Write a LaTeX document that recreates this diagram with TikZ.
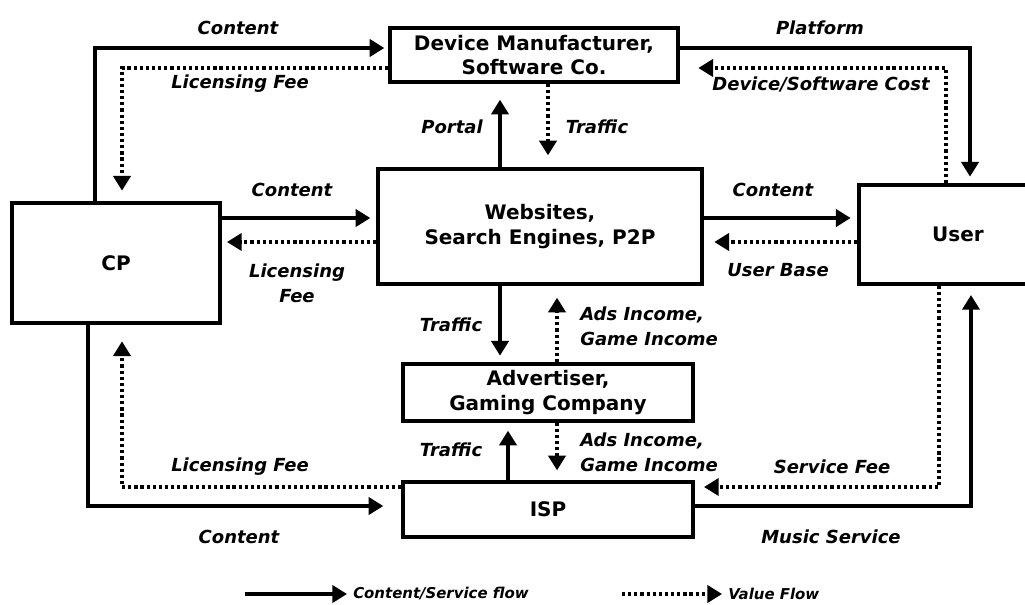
\documentclass[tikz,border=0pt]{standalone}
\usepackage{fontspec}
\setmainfont{DejaVu Sans}
\usetikzlibrary{arrows.meta,calc}

\tikzset{
  box/.style={draw, line width=2.6pt, align=center, inner sep=0pt,
    font=\fontsize{15}{18.5}\selectfont\bfseries},
  flow/.style={line width=2.3pt, -{Triangle[width=13pt,length=11pt]}},
  value/.style={flow, dash pattern=on 2.4pt off 2.2pt},
  lbl/.style={inner sep=0pt, align=center,
    font=\fontsize{13.5}{18.5}\selectfont\bfseries\itshape},
  legend/.style={inner sep=0pt, font=\fontsize{11.2}{13}\selectfont\bfseries\itshape}
}

\begin{document}
\begin{tikzpicture}[x=0.75pt,y=-0.75pt]

    \useasboundingbox (0,0) rectangle (1025,604);

    % Boxes
    \node[box, minimum width=216pt, minimum height=40.5pt] (dm) at (534,55)
      {Device Manufacturer,\\Software Co.};
    \node[box, minimum width=156pt, minimum height=90pt] (cp) at (116,263) {CP};
    \node[box, minimum width=243pt, minimum height=86.25pt] (web) at (540,226.5)
      {Websites,\\Search Engines, P2P};
    \node[box, minimum width=148.5pt, minimum height=74.25pt] (user) at (958,234.5) {User};
    \node[box, minimum width=217.5pt, minimum height=42.75pt] (adv) at (548,392.5)
      {Advertiser,\\Gaming Company};
    \node[box, minimum width=217.5pt, minimum height=41.25pt] (isp) at (548,509.5) {ISP};

    % CP <-> Device Manufacturer
    \draw[flow, shorten >=3pt] ($(cp.north)+(-21,0)$) |- ($(dm.west)+(0,-7)$);
    \draw[value, shorten >=8pt] ($(dm.west)+(0,13)$) -| ($(cp.north)+(6,0)$);
    \node[lbl] (lcontop) at (238,28) {Content};
    \node[lbl] (llictop) at (240,84) {Licensing Fee};

    % Device Manufacturer <-> User
    \draw[flow, shorten >=5pt] ($(dm.east)+(0,-7)$) -| ($(user.north)+(12,0)$);
    \draw[value, shorten >=14pt] ($(user.north)+(-12,0)$) |- ($(dm.east)+(0,13)$);
    \node[lbl] (lplatform) at (820,28) {Platform};
    \node[lbl] (ldevcost) at (821,84) {Device/Software Cost};

    % Websites <-> Device Manufacturer
    \draw[flow, shorten >=12pt] ($(web.north)+(-40,0)$) -- ($(dm.south)+(-34,0)$);
    \draw[value, shorten >=9pt] ($(dm.south)+(14,0)$) -- ($(web.north)+(8,0)$);
    \node[lbl] (lportal) at (452,127) {Portal};
    \node[lbl] (ltraftop) at (597,127) {Traffic};

    % CP <-> Websites
    \draw[flow, shorten >=4.5pt] ($(cp.east)+(0,-45)$) -- ($(web.west)+(0,-8.5)$);
    \draw[value, shorten >=4pt] ($(web.west)+(0,15.5)$) -- ($(cp.east)+(0,-21)$);
    \node[lbl] (lconcw) at (292,190) {Content};
    \node[lbl] (lliccw) at (297,283) {Licensing\\Fee};

    % Websites <-> User
    \draw[flow, shorten >=5pt] ($(web.east)+(0,-8.5)$) -- ($(user.west)+(0,-16.5)$);
    \draw[value, shorten >=8pt] ($(user.west)+(0,7.5)$) -- ($(web.east)+(0,15.5)$);
    \node[lbl] (lconwu) at (773,190) {Content};
    \node[lbl] (luserbase) at (778,270) {User Base};

    % Websites <-> Advertiser
    \draw[flow, shorten >=5pt] ($(web.south)+(-40,0)$) -- ($(adv.north)+(-48,0)$);
    \draw[value, shorten >=9pt] ($(adv.north)+(9,0)$) -- ($(web.south)+(17,0)$);
    \node[lbl] (ltrafwa) at (451,325) {Traffic};
    \node[lbl, anchor=west, align=left] (ladsup) at (580,326) {Ads Income,\\Game Income};

    % ISP <-> Advertiser
    \draw[flow, shorten >=6pt] ($(isp.north)+(-40,0)$) -- ($(adv.south)+(-40,0)$);
    \draw[value, shorten >=7.5pt] ($(adv.south)+(9,0)$) -- ($(isp.north)+(9,0)$);
    \node[lbl] (ltrafia) at (451,450) {Traffic};
    \node[lbl, anchor=west, align=left] (ladsdown) at (580,452) {Ads Income,\\Game Income};

    % CP <-> ISP
    \draw[flow, shorten >=13.5pt] ($(cp.south)+(-28,0)$) |- ($(isp.west)+(0,-3.5)$);
    \draw[value, shorten >=12.5pt] ($(isp.west)+(0,-22.5)$) -| ($(cp.south)+(6,0)$);
    \node[lbl] (llicbot) at (240,467) {Licensing Fee};
    \node[lbl] (lconbot) at (239,537) {Content};

    % User <-> ISP
    \draw[value, shorten >=7pt] ($(user.south)+(-19,0)$) |- ($(isp.east)+(0,-22.5)$);
    \draw[flow, shorten >=7pt] ($(isp.east)+(0,-3.5)$) -| ($(user.south)+(13,0)$);
    \node[lbl] (lservfee) at (832,467) {Service Fee};
    \node[lbl] (lmusic) at (831,537) {Music Service};

    % Legend
    \coordinate (lgaa) at (245,594);
    \coordinate (lgab) at (347,594);
    \coordinate (lgba) at (622,594);
    \coordinate (lgbb) at (722,594);
    \draw[flow] (lgaa) -- (lgab);
    \node[legend, anchor=west] (lgatext) at ($(lgab)+(6,0)$) {Content/Service flow};
    \draw[value] (lgba) -- (lgbb);
    \node[legend, anchor=west] (lgbtext) at ($(lgbb)+(6,0)$) {Value Flow};
\end{tikzpicture}
\end{document}
